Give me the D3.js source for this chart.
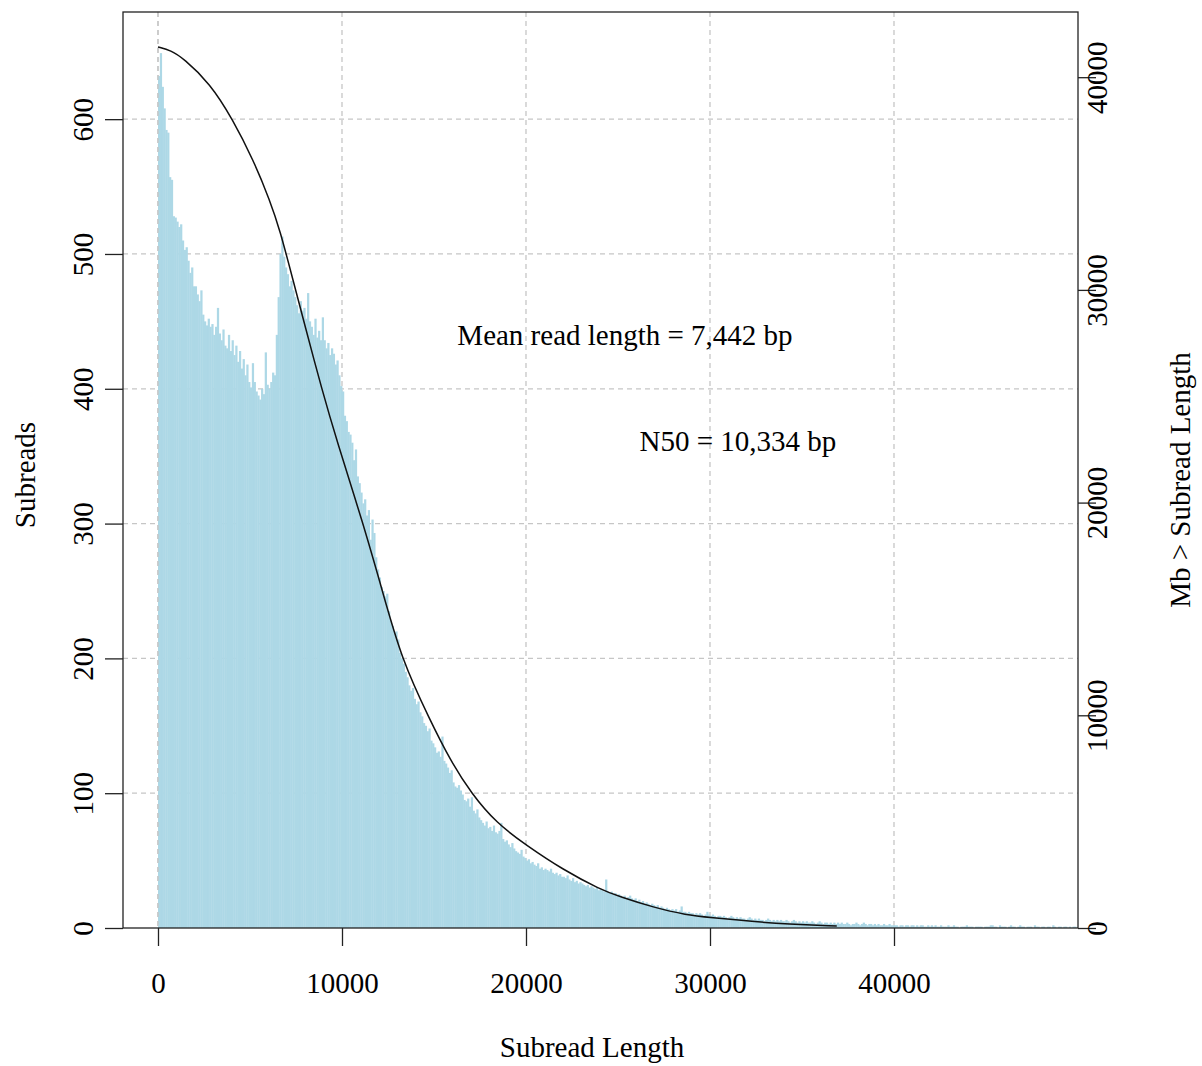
<!DOCTYPE html>
<html>
<head>
<meta charset="utf-8">
<script src="https://cdn.jsdelivr.net/npm/d3@7"></script>
<style>
  html, body { margin: 0; padding: 0; background: #ffffff; }
  svg { display: block; }
  text { font-family: "Liberation Serif", "Times New Roman", serif; fill: #000; }
</style>
</head>
<body>
<svg id="chart" width="1202" height="1066"></svg>
<script>
// Histogram of subread lengths, 100 bp bins starting at 0
const binWidth = 100;
const subreadCounts = [
  632, 649, 624, 608, 592, 590, 557, 555, 528, 527,
  524, 520, 522, 510, 503, 505, 495, 486, 490, 476,
  476, 470, 465, 473, 455, 450, 447, 452, 446, 448,
  440, 446, 460, 441, 436, 444, 432, 430, 440, 428,
  436, 425, 432, 420, 428, 415, 422, 410, 418, 405,
  401, 419, 405, 398, 395, 392, 400, 396, 427, 403,
  400, 405, 412, 410, 440, 468, 500, 513, 498, 490,
  485, 476, 480, 473, 468, 462, 456, 465, 458, 460,
  452, 471, 450, 446, 440, 452, 438, 443, 436, 453,
  436, 430, 434, 425, 430, 426, 418, 421, 410, 402,
  398, 380, 376, 368, 366, 360, 347, 355, 335, 330,
  323, 315, 318, 306, 310, 288, 303, 293, 275, 266,
  260, 253, 250, 246, 248, 235, 228, 224, 219, 220,
  214, 204, 200, 196, 190, 186, 180, 176, 178, 170,
  166, 168, 160, 157, 152, 150, 146, 148, 139, 137,
  134, 130, 131, 127, 142, 124, 122, 119, 115, 117,
  108, 105, 104, 106, 102, 99, 95, 94, 96, 90,
  97, 87, 85, 88, 82, 80, 78, 76, 79, 74,
  75, 72, 76, 71, 70, 72, 78, 66, 64, 65,
  62, 60, 63, 59, 57, 56, 55, 58, 53, 52,
  50, 51, 48, 49, 47, 46, 48, 44, 45, 43,
  44, 43, 42, 44, 41, 40, 41, 39, 40, 38,
  38, 37, 39, 36, 35, 37, 34, 35, 33, 34,
  33, 32, 31, 32, 30, 31, 30, 29, 30, 28,
  29, 28, 27, 36, 27, 26, 27, 25, 26, 24,
  25, 24, 23, 24, 22, 23, 24, 22, 21, 22,
  20, 21, 19, 20, 18, 19, 18, 17, 18, 17,
  16, 17, 15, 16, 15, 14, 15, 14, 13, 14,
  13, 14, 12, 13, 16, 12, 12, 11, 12, 11,
  11, 10, 11, 10, 11, 10, 9, 10, 12, 10,
  9, 10, 9, 8, 9, 9, 8, 9, 8, 7,
  8, 9, 8, 7, 8, 7, 8, 7, 7, 6,
  7, 8, 7, 6, 7, 6, 7, 6, 6, 5,
  6, 7, 6, 5, 6, 5, 6, 5, 6, 5,
  5, 6, 5, 4, 5, 6, 5, 4, 5, 4,
  5, 4, 5, 4, 4, 5, 4, 3, 4, 5,
  4, 3, 4, 4, 3, 4, 3, 4, 3, 4,
  3, 4, 3, 3, 4, 3, 2, 3, 3, 4,
  3, 2, 3, 4, 3, 2, 3, 3, 2, 3,
  2, 3, 2, 2, 3, 2, 2, 3, 2, 2,
  2, 2, 1, 2, 2, 1, 2, 2, 1, 2,
  2, 1, 2, 1, 2, 2, 1, 1, 2, 1,
  2, 1, 2, 1, 1, 2, 1, 1, 1, 2,
  1, 1, 2, 1, 1, 0, 1, 1, 1, 2,
  1, 1, 1, 0, 1, 1, 1, 1, 0, 1,
  1, 1, 2, 2, 1, 1, 0, 2, 1, 1,
  1, 0, 1, 2, 1, 1, 0, 1, 2, 1,
  1, 0, 1, 1, 1, 0, 2, 1, 1, 0,
  1, 1, 0, 1, 1, 0, 2, 1, 0, 1,
  1, 0, 1, 1, 0, 1, 0, 1, 1, 0
];

// Cumulative yield: Mb contained in subreads longer than a given length
const curveLength = [0, 700, 1380, 2830, 4060, 5180, 6090, 6630, 7300, 8000,
  8900, 9710, 11160, 12200, 13250, 14780, 15870, 17050, 18410, 20000,
  22030, 24020, 25110, 26920, 28730, 30000, 32360, 34170, 36890];
const curveMb = [41420, 41260, 40890, 39710, 38020, 36110, 34190, 32800, 30590, 28280,
  25340, 22930, 18990, 15830, 12600, 9780, 7900, 6300, 4920, 3900,
  2730, 1820, 1470, 970, 610, 500, 300, 190, 95];

const lengthTicks = [0, 10000, 20000, 30000, 40000];
const countTicks = [0, 100, 200, 300, 400, 500, 600];
const mbTicks = [0, 10000, 20000, 30000, 40000];

const annotations = [
  { text: "Mean read length = 7,442 bp", x: 25380, y: 440 },
  { text: "N50 = 10,334 bp", x: 31520, y: 361 }
];

const svg = d3.select("#chart");
const W = 1202, H = 1066;
const plot = { left: 123, right: 1078, top: 12, bottom: 928 };
const fontSize = 29;
const tickLen = 18;

svg.append("rect").attr("width", W).attr("height", H).attr("fill", "#ffffff");

const x = d3.scaleLinear().domain([-1902, 50000]).range([plot.left, plot.right]);
const yCount = d3.scaleLinear().domain([0, 679.5]).range([plot.bottom, plot.top]);
const yMb = d3.scaleLinear().domain([0, 43065]).range([plot.bottom, plot.top]);

// Dashed grid under the bars
const grid = svg.append("g")
  .attr("stroke", "#c6c6c6").attr("stroke-width", 1.3)
  .attr("stroke-dasharray", "5,4").attr("fill", "none");
grid.selectAll("line.v").data(lengthTicks).join("line")
  .attr("class", "v")
  .attr("x1", d => x(d)).attr("x2", d => x(d))
  .attr("y1", plot.top).attr("y2", plot.bottom);
grid.selectAll("line.h").data(countTicks.slice(1)).join("line")
  .attr("class", "h")
  .attr("x1", plot.left).attr("x2", plot.right)
  .attr("y1", d => yCount(d)).attr("y2", d => yCount(d));

// Histogram bars
const bins = subreadCounts.map((c, i) => ({ x0: i * binWidth, x1: (i + 1) * binWidth, count: c }));
svg.append("g").selectAll("rect").data(bins.filter(b => b.count > 0)).join("rect")
  .attr("x", d => x(d.x0))
  .attr("width", d => x(d.x1) - x(d.x0) + 0.4)
  .attr("y", d => yCount(d.count))
  .attr("height", d => yCount(0) - yCount(d.count))
  .attr("fill", "#add8e6");

// Grid line at zero length stays visible along the left edge of the bars
svg.append("line")
  .attr("x1", x(0)).attr("x2", x(0))
  .attr("y1", plot.top).attr("y2", plot.bottom)
  .attr("stroke", "#c6c6c6").attr("stroke-width", 1.3)
  .attr("stroke-dasharray", "5,4");

// Cumulative yield curve on the right-hand axis
const curvePts = curveLength.map((l, i) => [l, curveMb[i]]);
svg.append("path")
  .datum(curvePts)
  .attr("fill", "none").attr("stroke", "#111").attr("stroke-width", 1.5)
  .attr("d", d3.line().x(d => x(d[0])).y(d => yMb(d[1])).curve(d3.curveBasis));

// Plot frame
svg.append("rect")
  .attr("x", plot.left).attr("y", plot.top)
  .attr("width", plot.right - plot.left).attr("height", plot.bottom - plot.top)
  .attr("fill", "none").attr("stroke", "#222").attr("stroke-width", 1.3);

// Bottom axis
const axisStroke = g => g.selectAll("line, path").attr("stroke", "#222").attr("stroke-width", 1.3);
const gx = svg.append("g").attr("transform", `translate(0,${plot.bottom})`)
  .call(d3.axisBottom(x).tickValues(lengthTicks).tickSize(tickLen).tickFormat(d3.format("d")).tickPadding(0));
gx.select(".domain").remove();
gx.call(axisStroke);
gx.selectAll("text").attr("font-size", fontSize).attr("font-family", "Liberation Serif")
  .attr("y", 0).attr("dy", null).attr("transform", "translate(0,65)");

// Left axis (counts), labels parallel to the axis
const gl = svg.append("g").attr("transform", `translate(${plot.left},0)`)
  .call(d3.axisLeft(yCount).tickValues(countTicks).tickSize(tickLen).tickFormat(d3.format("d")));
gl.select(".domain").remove();
gl.call(axisStroke);
gl.selectAll("text")
  .attr("x", null).attr("dy", null)
  .attr("font-size", fontSize).attr("font-family", "Liberation Serif")
  .attr("text-anchor", "middle")
  .attr("transform", "translate(-30,0) rotate(-90)")
  .attr("y", 0);

// Right axis (Mb)
const gr = svg.append("g").attr("transform", `translate(${plot.right},0)`)
  .call(d3.axisRight(yMb).tickValues(mbTicks).tickSize(tickLen).tickFormat(d3.format("d")));
gr.select(".domain").remove();
gr.call(axisStroke);
gr.selectAll("text")
  .attr("x", null).attr("dy", null)
  .attr("font-size", fontSize).attr("font-family", "Liberation Serif")
  .attr("text-anchor", "middle")
  .attr("transform", "translate(29,0) rotate(-90)")
  .attr("y", 0);

// Axis titles
svg.append("text").attr("x", 592).attr("y", 1057)
  .attr("text-anchor", "middle").attr("font-size", fontSize).text("Subread Length");
svg.append("text").attr("transform", "translate(35,475) rotate(-90)")
  .attr("text-anchor", "middle").attr("font-size", fontSize).text("Subreads");
svg.append("text").attr("transform", "translate(1190,480) rotate(-90)")
  .attr("text-anchor", "middle").attr("font-size", fontSize).text("Mb > Subread Length");

// Summary annotations
svg.append("g").selectAll("text").data(annotations).join("text")
  .attr("x", d => x(d.x)).attr("y", d => yCount(d.y) + 10)
  .attr("text-anchor", "middle").attr("font-size", fontSize)
  .text(d => d.text);
</script>
</body>
</html>
